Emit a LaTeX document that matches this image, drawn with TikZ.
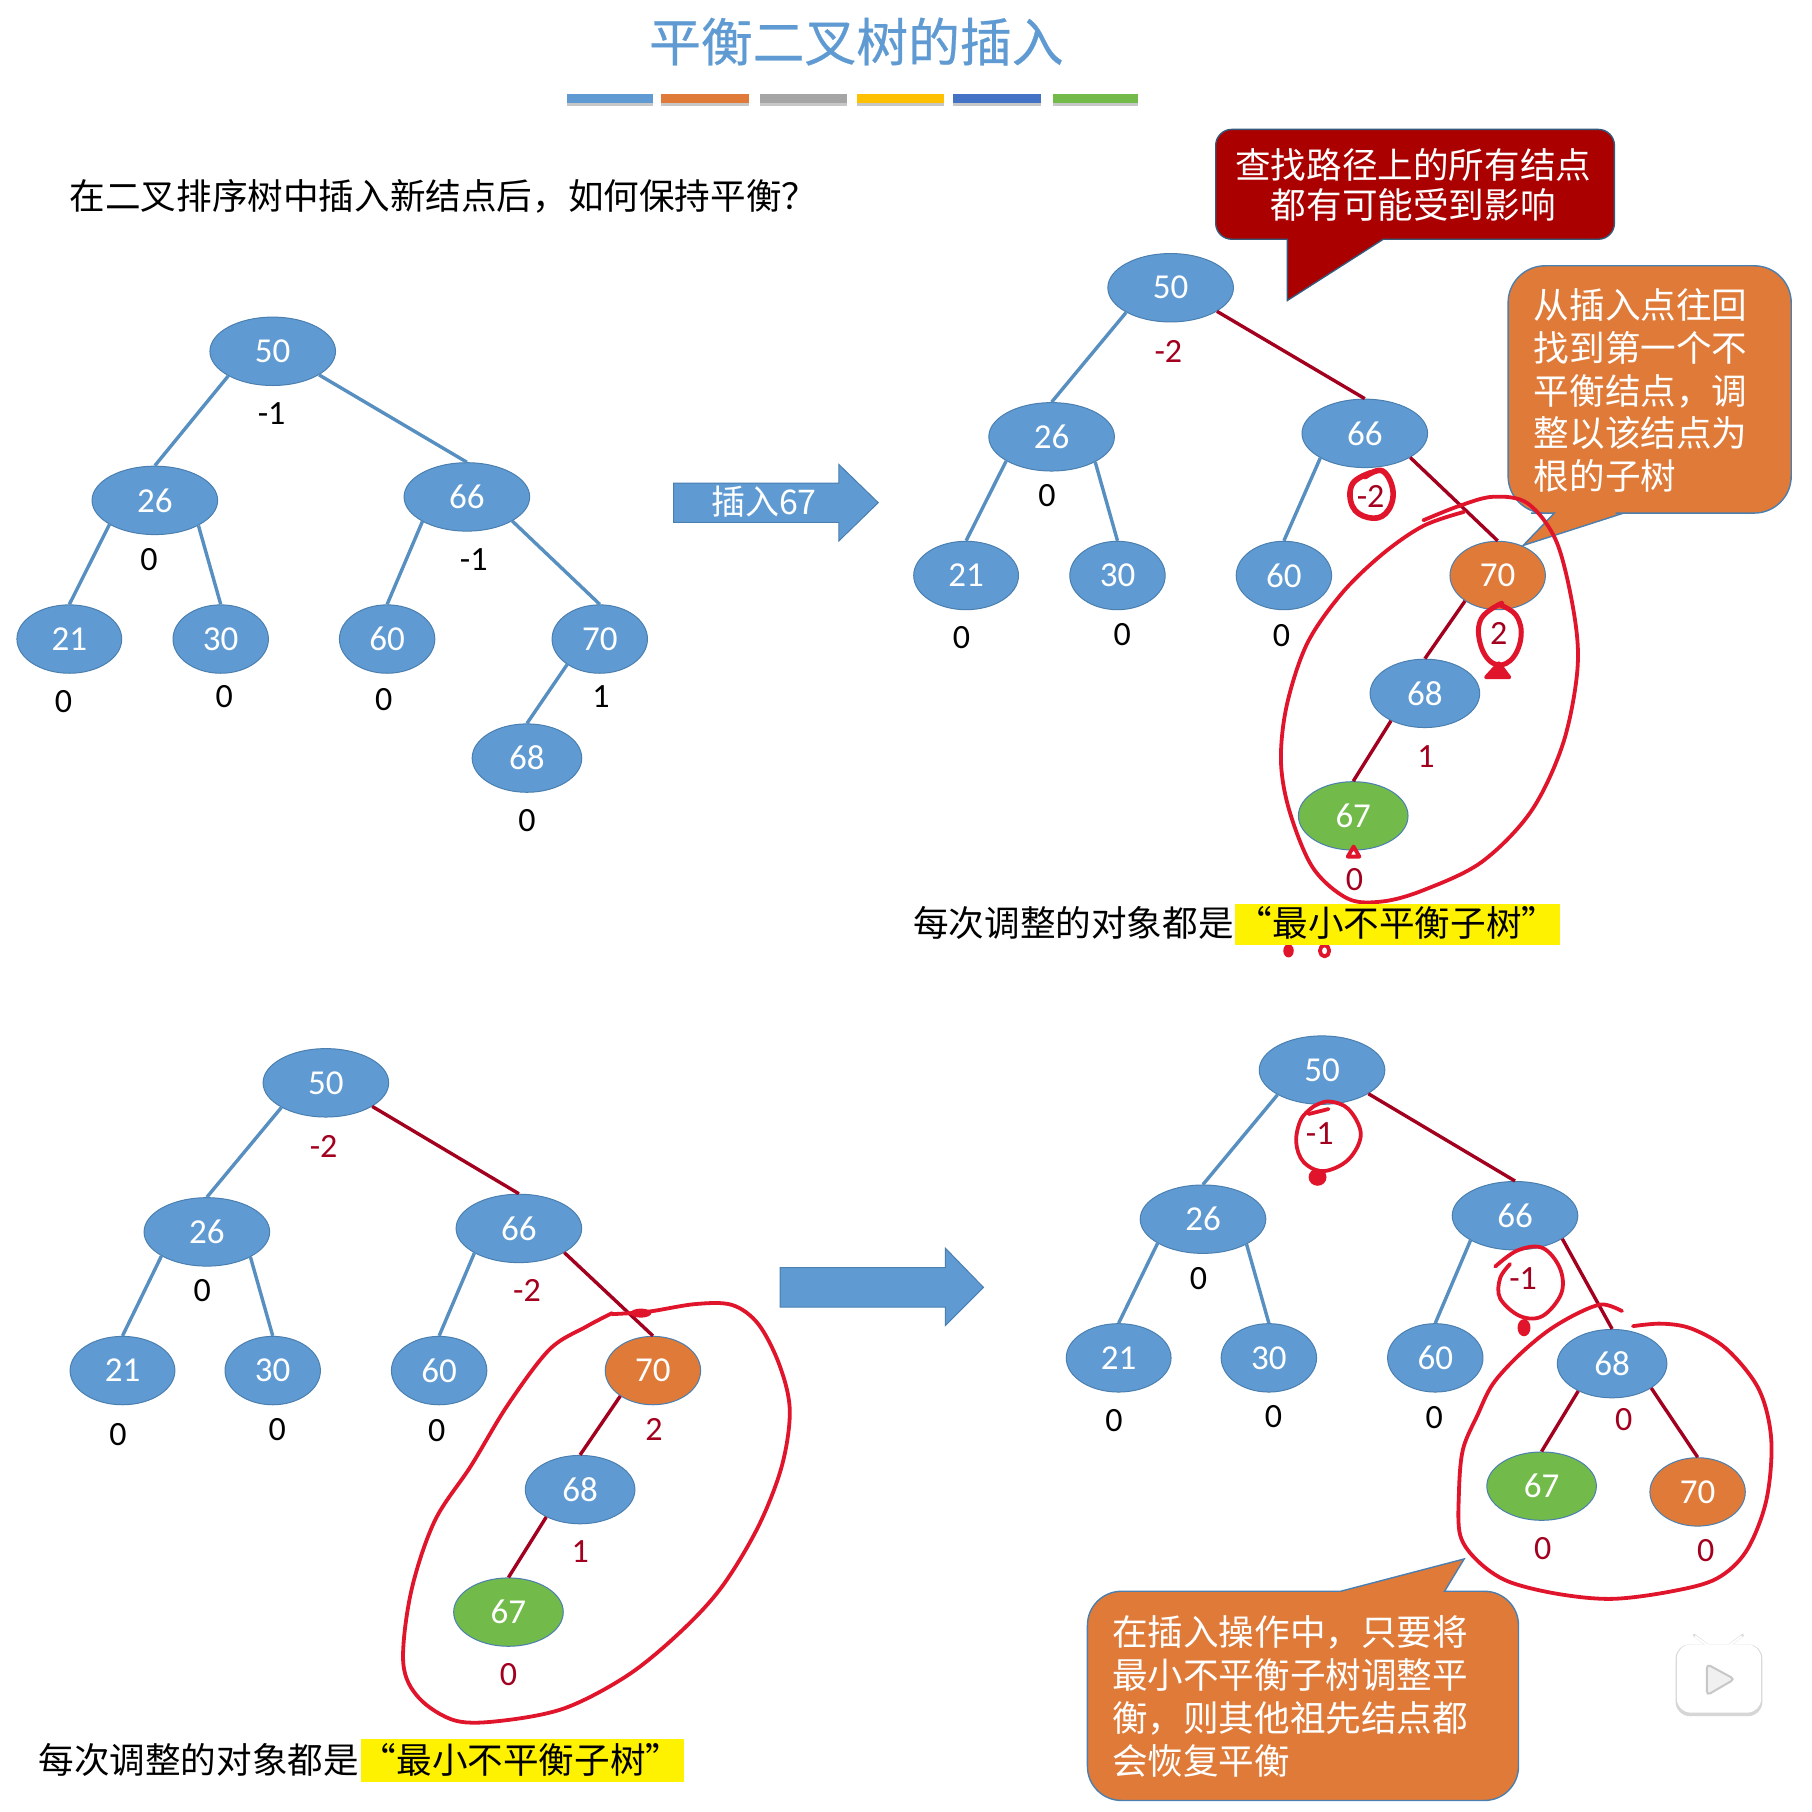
\documentclass[tikz,border=0pt]{standalone}
\usepackage{fontspec}
\setmainfont{Carlito}
\newfontfamily\cjk{Noto Sans CJK SC}
\newfontfamily\cjkt[FakeBold=0.5]{Noto Sans CJK SC}
\usetikzlibrary{shapes.geometric}
\definecolor{nblue}{HTML}{5F9BD2}
\definecolor{nedge}{HTML}{4A7FB0}
\definecolor{norange}{HTML}{E07A38}
\definecolor{ngreen}{HTML}{72BB4B}
\definecolor{dred}{HTML}{A3001F}
\definecolor{ink}{HTML}{E0152B}
\definecolor{crim}{HTML}{AB0000}
\definecolor{bgray}{HTML}{A5A5A5}
\definecolor{bgold}{HTML}{FFC000}
\definecolor{bblue}{HTML}{4472C4}
\tikzset{
  x=0.57781pt,y=-0.57781pt,
  tn/.style={ellipse,draw=nedge,line width=.5pt,fill=nblue,text=white,inner sep=0pt,minimum height=34.2pt,font=\fontsize{17.5}{20}\selectfont},
  e110/.style={tn,minimum width=62.8pt},
  e92/.style={tn,minimum width=52.4pt},
  e84/.style={tn,minimum width=47.7pt},
  e96/.style={tn,minimum width=54.8pt},
  org/.style={fill=norange},
  grn/.style={fill=ngreen},
  val/.style={inner sep=0pt,font=\fontsize{17}{20}\selectfont},
  ble/.style={nblue!92!black,line width=1.7pt},
  rde/.style={dred,line width=1.7pt},
  loopink/.style={ink,line width=1.9pt,line cap=round,line join=round},
  cjt/.style={inner sep=0pt,font=\cjk\fontsize{17.8}{21.4}\selectfont},
  yel/.style={fill=yellow,inner sep=0pt,draw=none},
}
\begin{document}
\begin{tikzpicture}
\useasboundingbox[fill=white] (0,0) rectangle (1568,1568);
% title
\node[cjt,font=\cjkt\fontsize{25.9}{30}\selectfont,text=nblue] (title) at (741,36) {平衡二叉树的插入};
\foreach \a/\b/\c in {491/565/nblue,572/648/norange,658/733/bgray,742/817/bgold,825/901/bblue,911/985/ngreen}{
  \fill[black!22] (\a,86) rectangle (\b,92);
  \fill[\c] (\a,81) rectangle (\b,89.5);
}
\node[cjt,anchor=west] (q) at (60,170) {在二叉排序树中插入新结点后，如何保持平衡？};

% tree 1
\node[e110] (a50) at (236,304) {50};
\node[e110] (a26) at (134,433) {26};
\node[e110] (a66) at (404,430) {66};
\node[e92] (a21) at (60,553) {21};
\node[e84] (a30) at (191,553) {30};
\node[e84] (a60) at (335,553) {60};
\node[e84] (a70) at (519,553) {70};
\node[e96] (a68) at (456,656) {68};
\draw[ble] (a50.209) -- (a26.north);
\draw[ble] (a50.-27) -- (a66.north);
\draw[ble] (a26.208) -- (a21.north);
\draw[ble] (a26.-30) -- (a30.north);
\draw[ble] (a66.209) -- (a60.north);
\draw[ble] (a66.-28) -- (a70.north);
\draw[ble] (a70.218) -- (a68.north);
\node[val] (av50) at (235,358) {-1};
\node[val] (av26) at (129,484) {0};
\node[val] (av66) at (410,484) {-1};
\node[val] (av21) at (55,607) {0};
\node[val] (av30) at (194,603) {0};
\node[val] (av60) at (332,605) {0};
\node[val] (av70) at (520,603) {1};
\node[val] (av68) at (456,710) {0};

% arrow 1
\fill[nblue,draw=nedge,line width=.5pt] (583,418) -- (726,418) -- (726,402) -- (760,435) -- (726,468) -- (726,452) -- (583,452) -- cycle;
\node[cjt,text=white,font=\cjk\fontsize{17}{20}\selectfont] (ins) at (661,434) {插入67};

% tree 2
\node[e110] (b50) at (1013,249) {50};
\node[e110] (b26) at (910,378) {26};
\node[e110] (b66) at (1181,375) {66};
\node[e92] (b21) at (836,498) {21};
\node[e84] (b30) at (967,498) {30};
\node[e84] (b60) at (1111,498) {60};
\node[e84,org] (b70) at (1296,498) {70};
\node[e96] (b68) at (1233,600) {68};
\node[e96,grn] (b67) at (1171,706) {67};
\draw[ble] (b50.209) -- (b26.north);
\draw[rde] (b50.-27) -- (b66.north);
\draw[ble] (b26.208) -- (b21.north);
\draw[ble] (b26.-30) -- (b30.north);
\draw[ble] (b66.209) -- (b60.north);
\draw[rde] (b66.-28) -- (b70.north);
\draw[rde] (b70.218) -- (b68.north);
\draw[rde] (b68.219) -- (b67.north);
\node[val,text=dred] (bv50) at (1011,304) {-2};
\node[val] (bv26) at (906,429) {0};
\node[val,text=dred] (bv66) at (1186,430) {-2};
\node[val] (bv21) at (832,552) {0};
\node[val] (bv30) at (971,549) {0};
\node[val] (bv60) at (1109,550) {0};
\node[val,text=dred] (bv70) at (1297,548) {2};
\node[val,text=dred] (bv68) at (1234,655) {1};
\node[val,text=dred] (bv67) at (1172,761) {0};

% red callout
\path[fill=crim,draw=nedge!70!black,line width=.7pt] (1300,207) [rounded corners=8pt] -- (1397,207) -- (1397,112) -- (1052,112) -- (1052,207) -- (1090,207) [sharp corners] -- (1114,207) -- (1114,260) -- (1197,207) -- cycle;
\node[cjt,text=white,align=center,font=\cjk\fontsize{17.8}{19.7}\selectfont] (cb1) at (1223,160) {查找路径上的所有结点\\都有可能受到影响};
% orange callout 1
\path[fill=norange,draw=nedge,line width=.7pt] (1325,444) [rounded corners=18.5pt] -- (1305,444) -- (1305,230) -- (1550,230) -- (1550,444) -- (1430,444) [sharp corners] -- (1405,444) -- (1318,472) -- (1345,444) -- cycle;
\node[cjt,text=white,align=left,anchor=west] (cb2) at (1327,338) {从插入点往回\\找到第一个不\\平衡结点，调\\整以该结点为\\根的子树};

% ink tree 2
\begin{scope}[shift={(779.2,86.5)},xscale=.5027,yscale=.485]
\draw[loopink] plot[smooth,tension=.55] coordinates {(900,750)(960,725)(1020,708)(1080,720)(1130,790)(1160,920)(1165,1020)(1140,1150)(1085,1270)(1000,1360)(900,1410)(830,1430)(770,1425)(710,1370)(670,1270)(655,1180)(665,1080)(700,970)(760,880)(830,810)(900,760)(970,735)};
\draw[loopink,line width=2.8pt] plot[smooth,tension=.7] coordinates {(800,672)(830,662)(848,700)(835,738)(805,745)(778,725)(778,685)(810,665)};
\draw[loopink,line width=2.5pt] plot[smooth,tension=.7] coordinates {(1030,900)(1060,920)(1068,960)(1050,1000)(1020,1005)(998,970)(1000,925)(1035,898)};
\draw[loopink,fill=ink] (1008,1030) -- (1030,1005) -- (1048,1030) -- cycle;
\draw[loopink] (770,1350) -- (780,1332) -- (790,1350) -- cycle;
\fill[ink] (668,1518) ellipse (9 and 12);
\draw[loopink] (730,1518) ellipse (8 and 10);
\end{scope}

% caption 1
\node[yel,minimum width=162.4pt,minimum height=20.8pt] (hl1) at (1209.5,800) {};
\node[cjt,anchor=west] (c1a) at (790,799) {每次调整的对象都是};
\node[cjt] (c1b) at (1209,799) {“最小不平衡子树”};

% tree 3
\node[e110] (c50) at (282,937) {50};
\node[e110] (c26) at (179,1066) {26};
\node[e110] (c66) at (449,1063) {66};
\node[e92] (c21) at (106,1186) {21};
\node[e84] (c30) at (236,1186) {30};
\node[e84] (c60) at (380,1186) {60};
\node[e84,org] (c70) at (565,1186) {70};
\node[e96] (c68) at (502,1289) {68};
\node[e96,grn] (c67) at (440,1395) {67};
\draw[ble] (c50.209) -- (c26.north);
\draw[rde] (c50.-27) -- (c66.north);
\draw[ble] (c26.208) -- (c21.north);
\draw[ble] (c26.-30) -- (c30.north);
\draw[ble] (c66.209) -- (c60.north);
\draw[rde] (c66.-28) -- (c70.north);
\draw[rde] (c70.218) -- (c68.north);
\draw[rde] (c68.219) -- (c67.north);
\node[val,text=dred] (cv50) at (280,992) {-2};
\node[val] (cv26) at (175,1117) {0};
\node[val,text=dred] (cv66) at (456,1117) {-2};
\node[val] (cv21) at (102,1241) {0};
\node[val] (cv30) at (240,1237) {0};
\node[val] (cv60) at (378,1238) {0};
\node[val,text=dred] (cv70) at (566,1237) {2};
\node[val,text=dred] (cv68) at (502,1343) {1};
\node[val,text=dred] (cv67) at (440,1449) {0};
\begin{scope}[shift={(.9,883.7)},xscale=.452,yscale=.437]
\draw[loopink] plot[smooth,tension=.55] coordinates {(1170,580)(1240,575)(1330,560)(1400,562)(1450,600)(1490,680)(1510,770)(1495,880)(1450,1000)(1380,1120)(1300,1210)(1200,1295)(1080,1360)(960,1385)(870,1385)(800,1340)(770,1270)(785,1130)(830,990)(900,880)(970,760)(1050,650)(1120,605)(1170,578)};
\fill[ink] (1225,578) ellipse (20 and 9);
\end{scope}

% arrow 2
\fill[nblue,draw=nedge,line width=.5pt] (675,1097) -- (818,1097) -- (818,1080) -- (851,1114) -- (818,1147) -- (818,1131) -- (675,1131) -- cycle;

% tree 4
\node[e110] (d50) at (1144,926) {50};
\node[e110] (d26) at (1041,1055) {26};
\node[e110] (d66) at (1311,1052) {66};
\node[e92] (d21) at (968,1175) {21};
\node[e84] (d30) at (1098,1175) {30};
\node[e84] (d60) at (1242,1175) {60};
\node[e96] (d68) at (1395,1180) {68};
\node[e96,grn] (d67) at (1334,1286) {67};
\node[e84,org] (d70) at (1469,1291) {70};
\draw[ble] (d50.209) -- (d26.north);
\draw[rde] (d50.-27) -- (d66.north);
\draw[ble] (d26.208) -- (d21.north);
\draw[ble] (d26.-30) -- (d30.north);
\draw[ble] (d66.209) -- (d60.north);
\draw[rde] (d66.-26) -- (d68.north);
\draw[rde] (d68.219) -- (d67.north);
\draw[rde] (d68.-32) -- (d70.north);
\node[val,text=dred] (dv50) at (1142,981) {-1};
\node[val] (dv26) at (1037,1106) {0};
\node[val,text=dred] (dv66) at (1318,1106) {-1};
\node[val] (dv21) at (964,1229) {0};
\node[val] (dv30) at (1102,1226) {0};
\node[val] (dv60) at (1241,1227) {0};
\node[val,text=dred] (dv68) at (1405,1228) {0};
\node[val,text=dred] (dv67) at (1335,1340) {0};
\node[val,text=dred] (dv70) at (1476,1342) {0};

% ink tree 4
\begin{scope}[shift={(891.3,883.2)},xscale=.4305,yscale=.437]
\draw[loopink] plot[smooth,tension=.6] coordinates {(600,175)(560,185)};
\draw[loopink] plot[smooth,tension=.6] coordinates {(570,170)(600,160)(640,175)(665,225)(640,275)(590,298)(550,280)(535,240)(545,195)(570,170)};
\fill[ink] (578,310) ellipse (18 and 17);
\draw[loopink] plot[smooth,tension=.6] coordinates {(935,487)(980,455)(1030,450)(1065,490)(1068,540)(1030,585)(985,585)(945,550)(945,510)(965,482)};
\fill[ink] (993,608) ellipse (13 and 17);
\draw[loopink] plot[smooth,tension=.55] coordinates {(1190,575)(1150,562)(1100,580)(1040,615)(980,665)(930,720)(900,780)(870,850)(862,940)(865,1020)(900,1070)(960,1110)(1060,1135)(1170,1145)(1290,1130)(1380,1105)(1440,1050)(1480,950)(1490,830)(1465,730)(1400,650)(1330,610)(1270,600)(1212,605)};
\end{scope}

% orange callout 2
\path[fill=norange,draw=nedge,line width=.7pt] (1280,1377) [rounded corners=17pt] -- (1314,1377) -- (1314,1558) -- (941,1558) -- (941,1377) -- (1130,1377) [sharp corners] -- (1160,1377) -- (1267,1349) -- (1250,1377) -- cycle;
\node[cjt,text=white,align=left,anchor=west,font=\cjk\fontsize{17.8}{21.6}\selectfont] (cb3) at (962,1468) {在插入操作中，只要将\\最小不平衡子树调整平\\衡，则其他祖先结点都\\会恢复平衡};

% caption 2
\node[yel,minimum width=161.8pt,minimum height=21.4pt] (hl2) at (452,1523.5) {};
\node[cjt,anchor=west] (c2a) at (33,1523) {每次调整的对象都是};
\node[cjt] (c2b) at (451,1523) {“最小不平衡子树”};

% player badge
\draw[black!14,line width=1.4pt,line cap=round] (1466,1415) -- (1478,1424) (1508,1415) -- (1496,1424);
\fill[black!16,rounded corners=7pt] (1450,1423) rectangle (1525,1485);
\fill[white,rounded corners=7pt] (1451,1423) rectangle (1524,1482);
\draw[white,line width=1pt,line cap=round] (1467,1416) -- (1478,1424) (1507,1416) -- (1496,1424);
\draw[black!22,fill=black!6,line width=1pt,rounded corners=2pt] (1477,1440) -- (1501,1453) -- (1477,1467) -- cycle;
\end{tikzpicture}
\end{document}
